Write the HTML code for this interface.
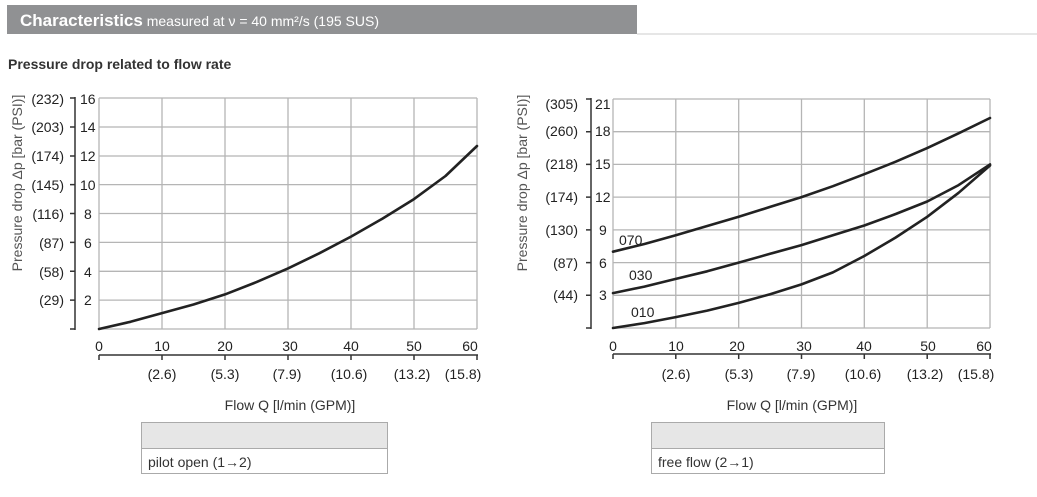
<!DOCTYPE html>
<html><head><meta charset="utf-8"><style>
body{margin:0;background:#fff;width:1037px;height:497px;overflow:hidden}
svg{display:block}
.t{font-family:"Liberation Sans Narrow","Liberation Sans",sans-serif;font-size:14px;fill:#222}
.s{font-family:"Liberation Sans",sans-serif}
.g{stroke:#b5b5b5;stroke-width:1.3}
.c{fill:none;stroke:#222;stroke-width:2.6;stroke-linejoin:round;stroke-linecap:round}
.a{stroke:#333;stroke-width:1.5}
</style></head><body>
<svg width="1037" height="497" viewBox="0 0 1037 497">
<rect x="7" y="5" width="630" height="29" fill="#909193"/>
<line x1="637" y1="34" x2="1037" y2="34" stroke="#ccc" stroke-width="1"/>
<text x="20" y="26" class="s" font-size="17" fill="#fff"><tspan font-weight="bold">Characteristics</tspan><tspan font-size="14"> measured at ν = 40 mm²/s (195 SUS)</tspan></text>
<text x="8" y="69" class="s" font-size="14" font-weight="bold" fill="#333">Pressure drop related to flow rate</text>

<!-- LEFT CHART -->
<g>
<line class="g" x1="99" y1="98" x2="99" y2="329"/>
<line class="g" x1="162" y1="98" x2="162" y2="329"/>
<line class="g" x1="225" y1="98" x2="225" y2="329"/>
<line class="g" x1="288" y1="98" x2="288" y2="329"/>
<line class="g" x1="351" y1="98" x2="351" y2="329"/>
<line class="g" x1="414" y1="98" x2="414" y2="329"/>
<line class="g" x1="477" y1="98" x2="477" y2="329"/>
<line class="g" x1="99" y1="98" x2="477" y2="98"/>
<line class="g" x1="99" y1="127" x2="477" y2="127"/>
<line class="g" x1="99" y1="156" x2="477" y2="156"/>
<line class="g" x1="99" y1="184.6" x2="477" y2="184.6"/>
<line class="g" x1="99" y1="213.5" x2="477" y2="213.5"/>
<line class="g" x1="99" y1="242.4" x2="477" y2="242.4"/>
<line class="g" x1="99" y1="271.3" x2="477" y2="271.3"/>
<line class="g" x1="99" y1="300.1" x2="477" y2="300.1"/>
<line class="g" x1="99" y1="329" x2="477" y2="329"/>
<line class="a" x1="75" y1="97" x2="75" y2="330"/>
<path class="a" d="M70 98H75M70 127H75M70 156H75M70 184.6H75M70 213.5H75M70 242.4H75M70 271.3H75M70 300.1H75M70 329H75"/>
<g class="t">
<text x="80" y="104">16</text><text x="80" y="132">14</text><text x="80" y="161">12</text><text x="80" y="190">10</text><text x="84" y="219">8</text><text x="84" y="248">6</text><text x="84" y="277">4</text><text x="84" y="305">2</text>
<g text-anchor="end"><text x="64" y="104">(232)</text><text x="64" y="132">(203)</text><text x="64" y="161">(174)</text><text x="64" y="190">(145)</text><text x="64" y="219">(116)</text><text x="64" y="248">(87)</text><text x="64" y="277">(58)</text><text x="64" y="305">(29)</text></g>
<g text-anchor="middle"><text x="99" y="351">0</text><text x="162" y="351">10</text><text x="225" y="351">20</text><text x="290" y="351">30</text><text x="351" y="351">40</text><text x="414" y="351">50</text><text x="470" y="351">60</text>
<text x="162" y="379">(2.6)</text><text x="225" y="379">(5.3)</text><text x="287" y="379">(7.9)</text><text x="349" y="379">(10.6)</text><text x="412" y="379">(13.2)</text><text x="463" y="379">(15.8)</text></g>
</g>
<line class="a" x1="99" y1="355" x2="478" y2="355"/>
<path class="a" d="M99 355V360M162 355V360M225 355V360M288 355V360M351 355V360M414 355V360M477 355V360"/>
<text class="s" x="290" y="410" font-size="14" fill="#333" text-anchor="middle">Flow Q [l/min (GPM)]</text>
<text class="s" transform="translate(22,183) rotate(-90)" font-size="14" fill="#555" text-anchor="middle">Pressure drop Δp [bar (PSI)]</text>
<path class="c" d="M99 329L130.5 321.8L162 313.1L193.5 304.5L225 294.4L256.5 282.1L288 268.4L319.5 253.2L351 236.6L382.5 218.6L414 199.1L445.5 176L477 146"/>
<rect x="141.5" y="422.5" width="246" height="51" fill="#fff" stroke="#aaa"/>
<rect x="142" y="423" width="245" height="25" fill="#e6e6e6"/>
<line x1="141" y1="448.5" x2="388" y2="448.5" stroke="#aaa"/>
<text class="s" x="148" y="467" font-size="14" fill="#333">pilot open (1→2)</text>
</g>

<!-- RIGHT CHART -->
<g>
<line class="g" x1="613" y1="99" x2="613" y2="328"/>
<line class="g" x1="675.8" y1="99" x2="675.8" y2="328"/>
<line class="g" x1="738.7" y1="99" x2="738.7" y2="328"/>
<line class="g" x1="801.5" y1="99" x2="801.5" y2="328"/>
<line class="g" x1="864.3" y1="99" x2="864.3" y2="328"/>
<line class="g" x1="927.2" y1="99" x2="927.2" y2="328"/>
<line class="g" x1="990" y1="99" x2="990" y2="328"/>
<line class="g" x1="613" y1="99" x2="990" y2="99"/>
<line class="g" x1="613" y1="131.7" x2="990" y2="131.7"/>
<line class="g" x1="613" y1="164.4" x2="990" y2="164.4"/>
<line class="g" x1="613" y1="197.1" x2="990" y2="197.1"/>
<line class="g" x1="613" y1="229.9" x2="990" y2="229.9"/>
<line class="g" x1="613" y1="262.6" x2="990" y2="262.6"/>
<line class="g" x1="613" y1="295.3" x2="990" y2="295.3"/>
<line class="g" x1="613" y1="328" x2="990" y2="328"/>
<line class="a" x1="591" y1="98" x2="591" y2="329"/>
<path class="a" d="M586 99H591M586 131.7H591M586 164.4H591M586 197.1H591M586 229.9H591M586 262.6H591M586 295.3H591M586 328H591"/>
<g class="t">
<text x="595" y="109">21</text><text x="595" y="136">18</text><text x="595" y="169">15</text><text x="595" y="202">12</text><text x="599" y="235">9</text><text x="599" y="268">6</text><text x="599" y="300">3</text>
<g text-anchor="end"><text x="578" y="109">(305)</text><text x="578" y="136">(260)</text><text x="578" y="169">(218)</text><text x="578" y="202">(174)</text><text x="578" y="235">(130)</text><text x="578" y="268">(87)</text><text x="578" y="300">(44)</text></g>
<g text-anchor="middle"><text x="613" y="351">0</text><text x="676" y="351">10</text><text x="737" y="351">20</text><text x="804" y="351">30</text><text x="864" y="351">40</text><text x="928" y="351">50</text><text x="984" y="351">60</text>
<text x="676" y="379">(2.6)</text><text x="739" y="379">(5.3)</text><text x="801" y="379">(7.9)</text><text x="863" y="379">(10.6)</text><text x="925" y="379">(13.2)</text><text x="976" y="379">(15.8)</text></g>
<text x="619" y="245">070</text><text x="629" y="280">030</text><text x="631" y="317">010</text>
</g>
<line class="a" x1="613" y1="354" x2="991" y2="354"/>
<path class="a" d="M613 354V359M675.8 354V359M738.7 354V359M801.5 354V359M864.3 354V359M927.2 354V359M990 354V359"/>
<text class="s" x="792" y="410" font-size="14" fill="#333" text-anchor="middle">Flow Q [l/min (GPM)]</text>
<text class="s" transform="translate(527,183) rotate(-90)" font-size="14" fill="#555" text-anchor="middle">Pressure drop Δp [bar (PSI)]</text>
<path class="c" d="M613 251.7L644.4 244L675.8 235.3L707.2 226L738.7 216.8L770.1 206.9L801.5 197.1L832.9 186.2L864.3 174.2L895.7 161.7L927.2 148.1L958.6 133.3L990 118"/>
<path class="c" d="M613 293.1L644.4 286.6L675.8 278.9L707.2 271.3L738.7 262.6L770.1 253.8L801.5 245.1L832.9 235.3L864.3 225.5L895.7 214L927.2 201.5L958.6 185.1L990 164.4"/>
<path class="c" d="M613 328L644.4 323.1L675.8 317.1L707.2 310.6L738.7 302.9L770.1 294.2L801.5 284.4L832.9 272.4L864.3 256L895.7 237.5L927.2 216.8L958.6 192.8L990 165.5"/>
<rect x="651.5" y="422.5" width="233" height="51" fill="#fff" stroke="#aaa"/>
<rect x="652" y="423" width="232" height="25" fill="#e6e6e6"/>
<line x1="651" y1="448.5" x2="885" y2="448.5" stroke="#aaa"/>
<text class="s" x="658" y="467" font-size="14" fill="#333">free flow (2→1)</text>
</g>
</svg>
</body></html>
